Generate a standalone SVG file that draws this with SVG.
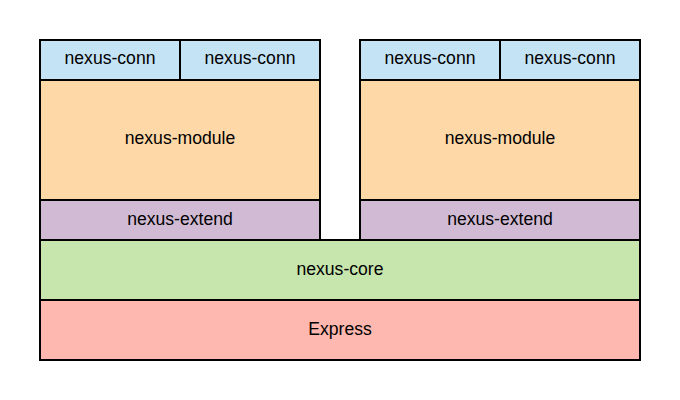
<svg xmlns="http://www.w3.org/2000/svg" width="680" height="400" viewBox="0 0 680 400">
<style>
rect{stroke:#000;stroke-width:2}
text{font-family:"Liberation Sans",Arial,sans-serif;font-size:17.6px;fill:#000;text-anchor:middle;dominant-baseline:central}
.conn{fill:#c4e3f5}.mod{fill:#fed8a7}.ext{fill:#d1bbd4}.core{fill:#c7e6ad}.exp{fill:#ffb8af}
</style>
<rect width="680" height="400" fill="#fff" style="stroke:none"/>
<g id="express"><rect class="exp" x="40" y="300" width="600" height="60"/><text x="340" y="328.5">Express</text></g>
<g id="core"><rect class="core" x="40" y="240" width="600" height="60"/><text x="340" y="268.5">nexus-core</text></g>
<g id="left-extend"><rect class="ext" x="40" y="200" width="280" height="40"/><text x="180" y="218.5">nexus-extend</text></g>
<g id="left-module"><rect class="mod" x="40" y="80" width="280" height="120"/><text x="180" y="138">nexus-module</text></g>
<g id="left-conn-1"><rect class="conn" x="40" y="40" width="140" height="40"/><text x="110" y="58">nexus-conn</text></g>
<g id="left-conn-2"><rect class="conn" x="180" y="40" width="140" height="40"/><text x="250" y="58">nexus-conn</text></g>
<g id="right-extend"><rect class="ext" x="360" y="200" width="280" height="40"/><text x="500" y="218.5">nexus-extend</text></g>
<g id="right-module"><rect class="mod" x="360" y="80" width="280" height="120"/><text x="500" y="138">nexus-module</text></g>
<g id="right-conn-1"><rect class="conn" x="360" y="40" width="140" height="40"/><text x="430" y="58">nexus-conn</text></g>
<g id="right-conn-2"><rect class="conn" x="500" y="40" width="140" height="40"/><text x="570" y="58">nexus-conn</text></g>
<g id="connectors"/>
</svg>
